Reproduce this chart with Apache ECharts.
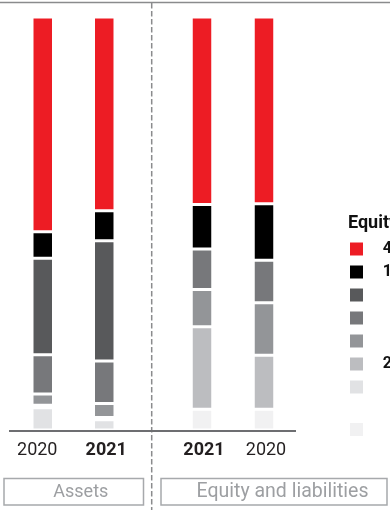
<!DOCTYPE html>
<html>
<head>
<meta charset="utf-8">
<script src="https://cdn.jsdelivr.net/npm/echarts@6/dist/echarts.min.js"></script>
<style>
  html, body { margin: 0; padding: 0; background: #fff; }
  #chart { width: 390px; height: 510px; }
</style>
</head>
<body>
<div id="chart"></div>
<script>
// Balance sheet structure, % of the balance sheet total
const assetYears = ['2020', '2021'];
const liabilityYears = ['2021', '2020'];

const groupNames = ['Group 1', 'Group 2', 'Group 3', 'Group 4', 'Group 5', 'Group 6', 'Group 7', 'Group 8'];
const groupColors = ['#ed1c24', '#000000', '#58595b', '#77787b', '#939598', '#bcbdc0', '#e1e2e4', '#f1f1f2'];

// shares per group, in the order of assetYears
const assetShares = [
  [52.0, 46.9],
  [6.4, 7.3],
  [23.4, 29.1],
  [9.5, 10.3],
  [2.7, 3.4],
  [0.6, 0.5],
  [5.4, 2.5],
  [0, 0]
];

// shares per group, in the order of liabilityYears
const liabilityShares = [
  [45.4, 45.2],
  [10.8, 13.7],
  [0, 0],
  [9.8, 10.3],
  [9.0, 12.7],
  [20.0, 13.1],
  [0, 0],
  [5.0, 5.0]
];

const legendTitle = 'Equity and liabilities 2021, %';
const sideTitles = ['Assets', 'Equity and liabilities'];

const FONT = 'Roboto, "Noto Sans", sans-serif';
const GRID_TOP = 17, GRID_H = 413;
const grids = [
  { left: 12, width: 123 },
  { left: 171, width: 124 }
];
const LINE = '#8a8b8d';

const chart = echarts.init(document.getElementById('chart'), null, { renderer: 'canvas' });

function yearAxis(gridIndex, years) {
  return {
    type: 'category',
    gridIndex: gridIndex,
    data: years,
    axisLine: { show: false },
    axisTick: { show: false },
    axisLabel: {
      interval: 0,
      margin: 11,
      fontFamily: FONT,
      fontSize: 18,
      color: '#231f20',
      formatter: function (v, i) {
        const bold = v === '2021';
        const shift = (gridIndex === 0 && i === 0) ? 'l' : 'r';
        return '{' + (bold ? 'b' : 'n') + shift + '|' + v + '}';
      },
      rich: {
        nl: { fontFamily: FONT, fontSize: 18, color: '#231f20', padding: [0, 11, 0, 0] },
        nr: { fontFamily: FONT, fontSize: 18, color: '#231f20', padding: [0, 0, 0, 4] },
        bl: { fontFamily: FONT, fontSize: 18, fontWeight: 'bold', color: '#231f20', padding: [0, 11, 0, 0] },
        br: { fontFamily: FONT, fontSize: 18, fontWeight: 'bold', color: '#231f20', padding: [0, 0, 0, 4] }
      }
    }
  };
}

function shareAxis(gridIndex) {
  return {
    type: 'value',
    gridIndex: gridIndex,
    min: 0,
    max: 100,
    show: false,
    splitLine: { show: false }
  };
}

const series = [];
// bottom of each stack first: the last group sits at the base
for (let g = groupNames.length - 1; g >= 0; g--) {
  [assetShares, liabilityShares].forEach(function (shares, side) {
    series.push({
      name: groupNames[g],
      type: 'bar',
      stack: 'side' + side,
      xAxisIndex: side,
      yAxisIndex: side,
      barWidth: 21.5,
      itemStyle: { color: groupColors[g], borderColor: '#ffffff', borderWidth: 1.5 },
      data: shares[g].map(function (v) { return v === 0 ? '-' : v; }),
      silent: true
    });
  });
}

// legend values: equity and liabilities, first column year
const legendValue = {};
groupNames.forEach(function (n, g) { legendValue[n] = liabilityShares[g][0].toFixed(1); });

function legendBlock(names, top) {
  return {
    orient: 'vertical',
    left: 348,
    top: top,
    padding: 0,
    itemWidth: 15,
    itemHeight: 15,
    itemGap: 6,
    icon: 'rect',
    selectedMode: false,
    data: names,
    formatter: function (name) { return '{v|' + legendValue[name] + '}'; },
    textStyle: {
      lineHeight: 15,
      height: 15,
      rich: {
        v: { fontFamily: FONT, fontSize: 16, fontWeight: 'bold', color: '#111', width: 46, height: 15, align: 'right', lineHeight: 15 }
      }
    }
  };
}

const baseY = GRID_TOP + GRID_H + 1;
const graphics = [
  { type: 'line', shape: { x1: 0, y1: 2.5, x2: 390, y2: 2.5 }, style: { stroke: LINE, lineWidth: 1.5 }, silent: true },
  { type: 'line', shape: { x1: 151.7, y1: 3, x2: 151.7, y2: 510 }, style: { stroke: LINE, lineWidth: 1.5, lineDash: [5.5, 2.5] }, silent: true },
  { type: 'line', shape: { x1: grids[0].left - 3, y1: baseY, x2: grids[1].left + grids[1].width + 1, y2: baseY }, style: { stroke: '#6d6e71', lineWidth: 2 }, silent: true },
  { type: 'rect', shape: { x: 4, y: 478.5, width: 139.5, height: 26.5 }, style: { fill: 'none', stroke: '#a7a9ac', lineWidth: 1.5 }, silent: true },
  { type: 'rect', shape: { x: 161, y: 478.5, width: 226, height: 26.5 }, style: { fill: 'none', stroke: '#a7a9ac', lineWidth: 1.5 }, silent: true },
  { type: 'text', x: 80.8, y: 492, style: { text: sideTitles[0], fontFamily: FONT, fontSize: 18, fill: '#9d9fa2', align: 'center', verticalAlign: 'middle' }, silent: true },
  { type: 'text', x: 282.5, y: 492, style: { text: sideTitles[1], fontFamily: FONT, fontSize: 19.5, fill: '#9d9fa2', align: 'center', verticalAlign: 'middle' }, silent: true },
  { type: 'text', x: 348, y: 223, style: { text: legendTitle, fontFamily: FONT, fontSize: 18, fontWeight: 'bold', fill: '#111', align: 'left', verticalAlign: 'middle' }, silent: true }
];

chart.setOption({
  animation: false,
  backgroundColor: '#ffffff',
  grid: grids.map(function (g) {
    return { left: g.left, width: g.width, top: GRID_TOP, height: GRID_H, containLabel: false };
  }),
  xAxis: [yearAxis(0, assetYears), yearAxis(1, liabilityYears)],
  yAxis: [shareAxis(0), shareAxis(1)],
  legend: [legendBlock(groupNames.slice(0, 7), 240.5), legendBlock(groupNames.slice(7), 421)],
  graphic: graphics,
  series: series
});
</script>
</body>
</html>
